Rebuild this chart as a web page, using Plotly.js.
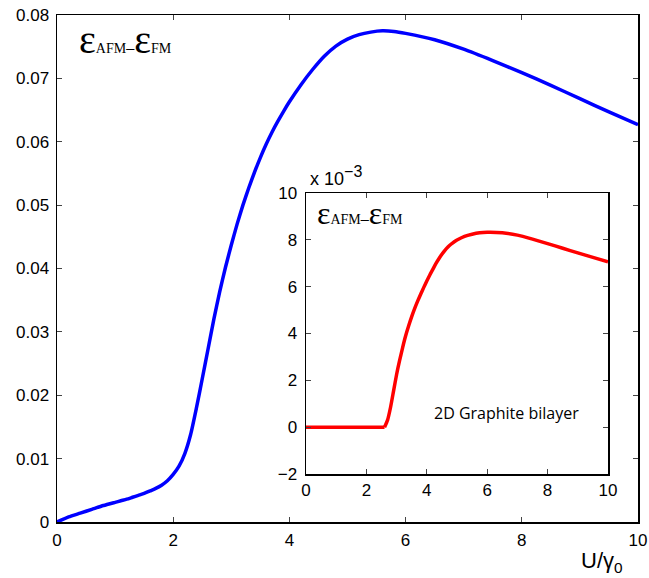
<!DOCTYPE html>
<html>
<head>
<meta charset="utf-8">
<script src="https://cdn.plot.ly/plotly-3.0.1.min.js"></script>
<style>html,body{margin:0;padding:0;background:#fff;}</style>
</head>
<body>
<div id="chart" style="width:649px;height:578px;"></div>
<script>
// Main curve: 2D graphite (blue)
const mainU = [0,0.2,0.4,0.6,0.8,1.0,1.1,1.2,1.3,1.4,1.5,1.6,1.7,1.8,1.9,2.0,2.1,2.2,2.3,2.4,2.5,2.6,2.7,2.8,2.9,3.0,3.1,3.2,3.3,3.4,3.5,3.6,3.7,3.8,3.9,4.0,4.2,4.4,4.6,4.8,5.0,5.2,5.4,5.6,5.8,6.0,6.5,7,7.5,8,8.5,9,9.5,10];
const mainE = [0,0.0008,0.0014,0.0020,0.0026,0.0031,0.00335,0.0036,0.0039,0.0042,0.0045,0.0049,0.0053,0.0058,0.0065,0.0075,0.0088,0.0108,0.0138,0.0180,0.0226,0.0273,0.0320,0.0363,0.0402,0.0437,0.0470,0.0500,0.0527,0.0552,0.0575,0.0596,0.0615,0.0632,0.0648,0.0663,0.0690,0.0714,0.0735,0.0751,0.0762,0.0769,0.0773,0.0775,0.0774,0.0771,0.0761,0.0746,0.0728,0.0709,0.0689,0.0668,0.0647,0.0627];
// Inset curve: 2D graphite bilayer (red), units of 1e-3
const insetFlatU = [0,2.6];
const insetFlatE = [0,0];
const insetRiseU = [2.6,2.7,2.8,2.9,3.0,3.1,3.2,3.3,3.4,3.5,3.6,3.7,3.8,3.9,4.0,4.1,4.2,4.3,4.4,4.5,4.6,4.7,4.8,4.9,5.0,5.25,5.5,5.75,6.0,6.5,7.0,7.5,8.0,8.5,9.0,9.5,10];
const insetRiseE = [0,0.3,0.85,1.55,2.25,2.85,3.4,3.9,4.33,4.72,5.07,5.39,5.69,5.97,6.24,6.5,6.74,6.98,7.19,7.38,7.55,7.69,7.81,7.91,7.99,8.15,8.24,8.3,8.32,8.3,8.2,8.03,7.84,7.64,7.44,7.25,7.06];
// Tick labels
const mainXTicks = [0,2,4,6,8,10];
const mainYTicks = [0,0.01,0.02,0.03,0.04,0.05,0.06,0.07,0.08];
const mainYLabels = ["0","0.01","0.02","0.03","0.04","0.05","0.06","0.07","0.08"];
const insetXTicks = [0,2,4,6,8,10];
const insetYTicks = [-2,0,2,4,6,8,10];
const insetYLabels = ["\u22122","0","2","4","6","8","10"];

const tickFont = {family:"Liberation Sans, Arial, sans-serif", size:17, color:"#000"};
const axisCommon = {
  showline:true, linecolor:"#000", linewidth:1.5, mirror:"ticks",
  ticks:"inside", ticklen:5, tickwidth:1, tickcolor:"#444",
  showgrid:false, zeroline:false, tickfont:tickFont, tickmode:"array"
};

const traces = [
  {x:mainU, y:mainE, xaxis:"x", yaxis:"y", mode:"lines",
   line:{color:"#0000ff", width:3.5, shape:"spline", smoothing:0.6}, hoverinfo:"skip"},
  {x:insetFlatU, y:insetFlatE, xaxis:"x2", yaxis:"y2", mode:"lines",
   line:{color:"#ff0000", width:3.5}, hoverinfo:"skip"},
  {x:insetRiseU, y:insetRiseE, xaxis:"x2", yaxis:"y2", mode:"lines",
   line:{color:"#ff0000", width:3.5, shape:"spline", smoothing:0.6}, hoverinfo:"skip"}
];

const eps = (big, small) =>
  '<span style="font-size:' + big + 'px">\u03b5</span><span style="font-size:' + small + 'px">AFM</span>' +
  '<span style="font-size:' + (small+2) + 'px">\u2013</span>' +
  '<span style="font-size:' + big + 'px">\u03b5</span><span style="font-size:' + small + 'px">FM</span>';

const layout = {
  width:649, height:578,
  margin:{l:0, r:0, t:0, b:0},
  paper_bgcolor:"#fff", plot_bgcolor:"rgba(0,0,0,0)",
  showlegend:false,
  xaxis: Object.assign({}, axisCommon, {domain:[57/649, 638/649], range:[0,10], tickvals:mainXTicks, anchor:"y", ticklabelstandoff:2}),
  yaxis: Object.assign({}, axisCommon, {domain:[56/578, 563/578], range:[0,0.08], tickvals:mainYTicks, ticktext:mainYLabels, anchor:"x", ticklabelstandoff:3}),
  xaxis2: Object.assign({}, axisCommon, {domain:[306/649, 608/649], range:[0,10], tickvals:insetXTicks, anchor:"y2"}),
  yaxis2: Object.assign({}, axisCommon, {domain:[104/578, 385/578], range:[-2,10], tickvals:insetYTicks, ticktext:insetYLabels, anchor:"x2", ticklabelstandoff:4}),
  annotations:[
    {xref:"paper", yref:"paper", x:77/649, y:1-40/578, xanchor:"left", yanchor:"middle", showarrow:false,
     text:eps(40,14), font:{family:"Liberation Serif, Times New Roman, serif", color:"#000", size:14}},
    {xref:"paper", yref:"paper", x:315/649, y:1-213/578, xanchor:"left", yanchor:"middle", showarrow:false,
     text:eps(32,14), font:{family:"Liberation Serif, Times New Roman, serif", color:"#000", size:14}},
    {xref:"paper", yref:"paper", x:308/649, y:1-191/578, xanchor:"left", yanchor:"bottom", showarrow:false,
     text:"x 10<sup><span style=\"font-size:16px\">\u22123</span></sup>", font:{family:"Liberation Sans, Arial, sans-serif", color:"#000", size:18}},
    {xref:"paper", yref:"paper", x:432/649, y:1-413/578, xanchor:"left", yanchor:"middle", showarrow:false,
     text:"2D Graphite bilayer", font:{family:"Open Sans, sans-serif", color:"#000", size:16}},
    {xref:"paper", yref:"paper", x:602/649, y:1-562/578, xanchor:"center", yanchor:"middle", showarrow:false,
     text:"U/\u03b3<sub>0</sub>", font:{family:"Liberation Sans, Arial, sans-serif", color:"#000", size:22}}
  ]
};

Plotly.newPlot("chart", traces, layout, {staticPlot:true, displayModeBar:false});
</script>
</body>
</html>
